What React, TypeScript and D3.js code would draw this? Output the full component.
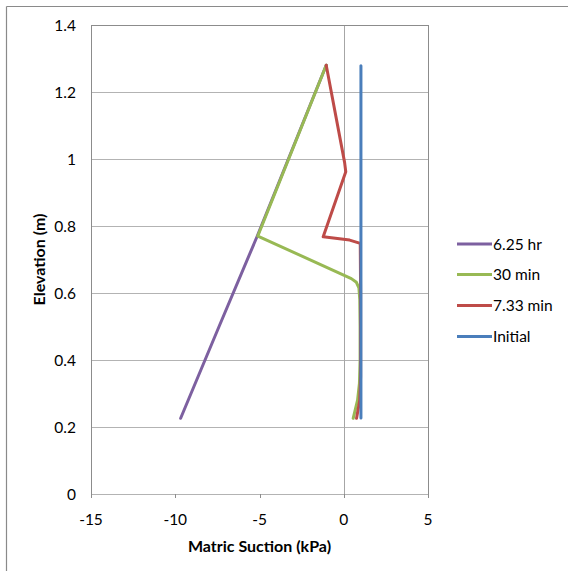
import React from "react";
import * as d3 from "d3";

const xTicks = [-15, -10, -5, 0, 5];
const yTicks = [0, 0.2, 0.4, 0.6, 0.8, 1, 1.2, 1.4];

const seriesNames = ["6.25 hr", "30 min", "7.33 min", "Initial"];
const seriesColors = ["#7D60A0", "#98B954", "#BE4B48", "#4A7EBB"];

const hr625: [number, number][] = [
  [-9.68, 0.226],
  [-7.4, 0.5],
  [-5.15, 0.768],
  [-1.04, 1.28],
];
const min30: [number, number][] = [
  [-1.04, 1.28],
  [-5.1, 0.77],
  [0.45, 0.643],
  [0.75, 0.632],
  [0.9, 0.615],
  [0.95, 0.58],
  [0.97, 0.5],
  [0.97, 0.4],
  [0.93, 0.33],
  [0.82, 0.28],
  [0.56, 0.226],
];
const min733: [number, number][] = [
  [-1.04, 1.28],
  [0.05, 0.99],
  [0.12, 0.962],
  [-1.22, 0.768],
  [0.35, 0.758],
  [0.98, 0.748],
  [1.0, 0.6],
  [1.0, 0.35],
  [0.95, 0.28],
  [0.76, 0.226],
];
const initial: [number, number][] = [
  [1.02, 0.227],
  [1.02, 1.278],
];

const allSeries = [hr625, min30, min733, initial];

export default function App() {
  const left = 91, right = 428, top = 25, bottom = 494;
  const x = d3.scaleLinear().domain([-15, 5]).range([left, right]);
  const y = d3.scaleLinear().domain([0, 1.4]).range([bottom, top]);
  const line = d3
    .line<[number, number]>()
    .x((d) => x(d[0]))
    .y((d) => y(d[1]))
    .curve(d3.curveLinear);
  const font = "Lato, 'Liberation Sans', sans-serif";
  const fs = 15.5;
  const legendY = [244, 274.5, 305.5, 336.5];
  return (
    <svg
      width={568}
      height={571}
      style={{ position: "absolute", left: 0, top: 0, background: "#fff" }}
      fontFamily={font}
    >
      <rect x={0} y={0} width={568} height={571} fill="#fff" />
      <line x1={6.5} y1={6.5} x2={568} y2={6.5} stroke="#8a8a8a" strokeWidth={1.2} />
      <line x1={6.5} y1={6.5} x2={6.5} y2={571} stroke="#8a8a8a" strokeWidth={1.2} />
      {yTicks.slice(1, -1).map((t) => (
        <line
          key={"g" + t}
          x1={left}
          x2={right}
          y1={Math.round(y(t)) + 0.5}
          y2={Math.round(y(t)) + 0.5}
          stroke="#b3b3b3"
          strokeWidth={1}
        />
      ))}
      <line x1={Math.round(x(0)) + 0.5} x2={Math.round(x(0)) + 0.5} y1={top} y2={bottom} stroke="#a6a6a6" strokeWidth={1} />
      <line x1={left} x2={right} y1={top + 0.5} y2={top + 0.5} stroke="#8c8c8c" />
      <line x1={right + 0.5} x2={right + 0.5} y1={top} y2={bottom} stroke="#8c8c8c" />
      <line x1={left + 0.5} x2={left + 0.5} y1={top} y2={bottom + 4} stroke="#8c8c8c" />
      <line x1={left} x2={right} y1={bottom + 0.5} y2={bottom + 0.5} stroke="#b3b3b3" />
      {xTicks.map((t) => (
        <line key={"xt" + t} x1={Math.round(x(t)) + 0.5} x2={Math.round(x(t)) + 0.5} y1={bottom} y2={bottom + 4} stroke="#8c8c8c" />
      ))}
      {yTicks.map((t) => (
        <text key={"yl" + t} x={76} y={y(t) + 5.5} textAnchor="end" fontSize={fs} fill="#000">
          {String(t)}
        </text>
      ))}
      {xTicks.map((t) => (
        <text key={"xl" + t} x={x(t)} y={525} textAnchor="middle" fontSize={fs} fill="#000">
          {String(t)}
        </text>
      ))}
      <text x={(left + right) / 2} y={552} textAnchor="middle" fontSize={16} fontWeight="bold">
        Matric Suction (kPa)
      </text>
      <text
        transform={`translate(45,${(top + bottom) / 2}) rotate(-90)`}
        textAnchor="middle"
        fontSize={16}
        fontWeight="bold"
      >
        Elevation (m)
      </text>
      {allSeries.map((s, i) => (
        <path
          key={"s" + i}
          d={line(s) || ""}
          fill="none"
          stroke={seriesColors[i]}
          strokeWidth={3}
          strokeLinejoin="round"
          strokeLinecap="round"
        />
      ))}
      {seriesNames.map((n, i) => (
        <g key={"lg" + n}>
          <line x1={457} x2={492} y1={legendY[i]} y2={legendY[i]} stroke={seriesColors[i]} strokeWidth={3} />
          <text x={493} y={legendY[i] + 5.5} fontSize={fs}>
            {n}
          </text>
        </g>
      ))}
    </svg>
  );
}
